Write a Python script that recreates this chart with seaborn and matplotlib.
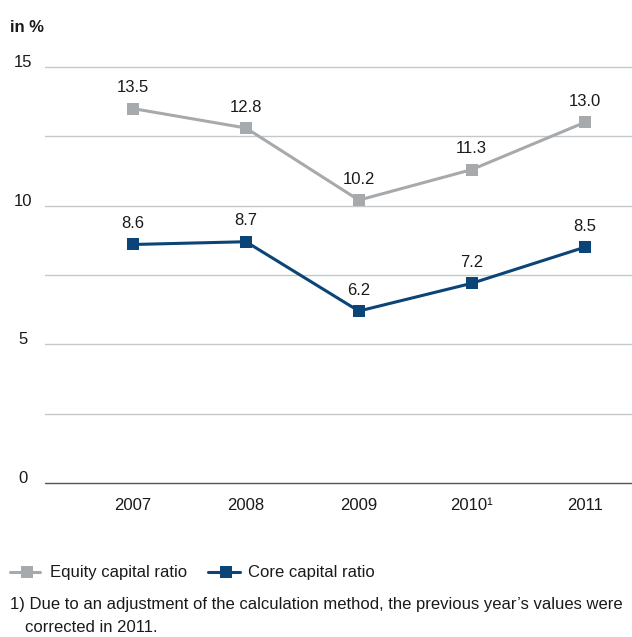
import matplotlib
matplotlib.use("Agg")
import matplotlib.pyplot as plt
from matplotlib.lines import Line2D
import seaborn as sns
import pandas as pd

sns.set_theme(style="white")
plt.rcParams["font.family"] = ["Liberation Sans", "DejaVu Sans"]
fs = 12

years = ["2007", "2008", "2009", "2010", "2011"]
year_labels = ["2007", "2008", "2009", "2010¹", "2011"]
equity_ratio = [13.5, 12.8, 10.2, 11.3, 13.0]
core_ratio = [8.6, 8.7, 6.2, 7.2, 8.5]
series_names = ["Equity capital ratio", "Core capital ratio"]
colors = ["#A7AAAD", "#0B4477"]
text_color = "#1a1a1a"

rows = []
for name, vals in zip(series_names, [equity_ratio, core_ratio]):
    for i, (y, v) in enumerate(zip(years, vals)):
        rows.append({"pos": i, "year": y, "value": v, "series": name})
df = pd.DataFrame(rows)

W, H = 632, 637
fig = plt.figure(figsize=(W / 100, H / 100), dpi=100)
ax = fig.add_axes([45 / W, 1 - 483 / H, 1 - 45 / W, (483 - 67) / H])

sns.lineplot(data=df, x="pos", y="value", hue="series", palette=colors,
             marker="s", markersize=8.5, markeredgewidth=0, linewidth=2.2,
             ax=ax, legend=False, zorder=3)

# value labels above each point
for vals in [equity_ratio, core_ratio]:
    for i, v in enumerate(vals):
        ax.annotate(f"{v:.1f}", (i, v), xytext=(0, 15), textcoords="offset points",
                    ha="center", va="center", fontsize=fs, color=text_color)

ax.set_ylim(0, 15)
ax.set_xlim(-0.78, 4.42)
for g in [2.5, 5, 7.5, 10, 12.5, 15]:
    ax.axhline(g, color="#C5C8CB", linewidth=1.0, zorder=1, clip_on=False)
ax.axhline(0, color="#555555", linewidth=1.0, zorder=2, clip_on=False)

ax.set_yticks([0, 5, 10, 15])
ax.set_yticklabels(["0", "5", "10", "15"])
ax.set_xticks(range(len(years)))
ax.set_xticklabels(year_labels)
ax.tick_params(axis="both", length=0, labelsize=fs, colors=text_color)
ax.tick_params(axis="y", pad=16)
ax.tick_params(axis="x", pad=11)
for lbl in ax.get_yticklabels():
    lbl.set_horizontalalignment("center")
    lbl.set_verticalalignment("baseline")
ax.set_xlabel("")
ax.set_ylabel("")
for s in ax.spines.values():
    s.set_visible(False)

fig.text(10 / W, 1 - 27 / H, "in %", fontsize=fs, fontweight="bold",
         va="center", ha="left", color=text_color)

# legend entries: short line with a square marker, then the series name
leg_y = 1 - 572 / H
for (x0, x1, xm, xt), name, c in zip([(10, 40, 27, 50), (208, 240, 226, 248)],
                                      series_names, colors):
    fig.add_artist(Line2D([x0 / W, x1 / W], [leg_y, leg_y], color=c,
                          linewidth=2.2, transform=fig.transFigure))
    fig.add_artist(Line2D([xm / W], [leg_y], color=c, marker="s", markersize=8.5,
                          markeredgewidth=0, transform=fig.transFigure))
    fig.text(xt / W, leg_y, name, fontsize=fs, va="center", ha="left",
             color=text_color)

fig.text(10 / W, 1 - 605 / H,
         "1) Due to an adjustment of the calculation method, the previous year\u2019s values were",
         fontsize=fs, va="center", ha="left", color=text_color)
fig.text(25 / W, 1 - 628 / H, "corrected in 2011.",
         fontsize=fs, va="center", ha="left", color=text_color)

fig.savefig("out.png", dpi=100)
